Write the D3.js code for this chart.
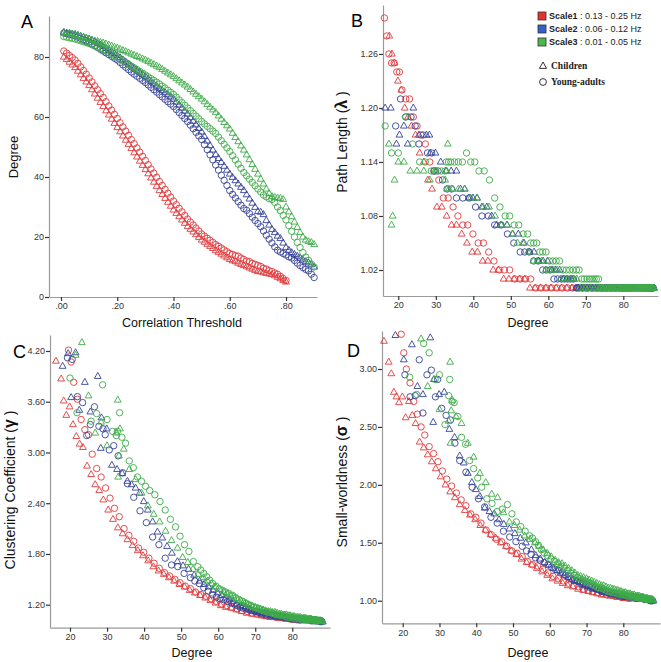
<!DOCTYPE html>
<html><head><meta charset="utf-8">
<script src="https://cdn.jsdelivr.net/npm/d3@7"></script>
<style>body{margin:0;background:#fff}svg{display:block}</style>
</head><body>
<svg id="chart" width="661" height="662"></svg>
<script>
// ---------------- DATA ----------------
const thresholds = [
0.01,0.02,0.03,0.04,0.05,0.06,0.07,0.08,0.09,0.10,
0.11,0.12,0.13,0.14,0.15,0.16,0.17,0.18,0.19,0.20,
0.21,0.22,0.23,0.24,0.25,0.26,0.27,0.28,0.29,0.30,
0.31,0.32,0.33,0.34,0.35,0.36,0.37,0.38,0.39,0.40,
0.41,0.42,0.43,0.44,0.45,0.46,0.47,0.48,0.49,0.50,
0.51,0.52,0.53,0.54,0.55,0.56,0.57,0.58,0.59,0.60,
0.61,0.62,0.63,0.64,0.65,0.66,0.67,0.68,0.69,0.70,
0.71,0.72,0.73,0.74,0.75,0.76,0.77,0.78,0.79,0.80,
0.81,0.82,0.83,0.84,0.85,0.86,0.87,0.88,0.89,0.90];

const scaleLegend = ["Scale1", "Scale2", "Scale3"];
const scaleBands = [" : 0.13 - 0.25 Hz", " : 0.06 - 0.12 Hz", " : 0.01 - 0.05 Hz"];
const groupLegend = ["Children", "Young-adults"];

// Degree per threshold (panel A)
const degRedYoung = [
82.0,81.3,80.5,79.8,79.0,77.9,76.7,75.5,74.3,73.0,
71.7,70.4,69.1,67.8,66.5,65.1,63.7,62.3,60.9,59.5,
58.1,56.7,55.3,53.9,52.5,51.1,49.7,48.3,46.9,45.5,
44.1,42.7,41.3,39.9,38.5,37.2,35.9,34.6,33.3,32.0,
30.8,29.6,28.4,27.2,26.0,25.0,24.0,23.0,22.0,21.0,
20.3,19.6,18.9,18.2,17.5,16.9,16.3,15.7,15.1,14.5,
14.2,13.8,13.6,13.0,12.5,12.0,11.8,11.2,10.9,10.5,
10.2,9.6,9.3,8.8,8.5,8.0,7.6,6.9,6.2,5.5];
const degRedChild = [
80.0,79.2,78.3,77.4,76.5,75.3,74.1,72.9,71.7,70.5,
69.1,67.7,66.3,64.9,63.5,62.1,60.7,59.3,57.9,56.5,
55.1,53.7,52.3,50.9,49.5,48.1,46.7,45.3,43.9,42.5,
41.1,39.7,38.3,36.9,35.5,34.2,32.9,31.6,30.3,29.0,
27.9,26.8,25.7,24.6,23.5,22.6,21.7,20.8,19.9,19.0,
18.3,17.6,16.9,16.2,15.5,14.9,14.3,13.7,13.1,12.5,
12.1,11.8,11.3,10.9,10.5,10.1,9.7,9.3,8.9,8.5,
8.4,8.1,7.9,7.7,7.5,7.1,6.6,6.1,5.5,5.0];
const degBlueYoung = [
88.0,87.8,87.5,87.3,87.0,86.6,86.2,85.8,85.4,85.0,
84.4,83.8,83.2,82.6,82.0,81.4,80.8,80.2,79.6,79.0,
78.2,77.4,76.6,75.8,75.0,74.3,73.6,72.9,72.2,71.5,
70.7,69.9,69.1,68.3,67.5,66.7,65.9,65.1,64.3,63.5,
62.5,61.5,60.5,59.5,58.5,57.3,56.1,54.9,53.7,52.5,
50.8,49.1,47.4,45.7,44.0,42.3,40.6,38.9,37.2,35.5,
34.2,33.0,31.8,30.6,29.5,28.9,27.8,26.6,25.5,24.5,
23.4,22.0,20.6,19.3,18.0,16.7,15.6,15.0,14.5,14.0,
13.4,13.0,12.2,11.3,10.5,9.8,9.2,8.7,7.6,6.5];
const degBlueChild = [
88.2,88.0,87.9,87.7,87.5,87.2,86.9,86.6,86.3,86.0,
85.5,85.0,84.5,84.0,83.5,82.9,82.3,81.7,81.1,80.5,
79.8,79.1,78.4,77.7,77.0,76.3,75.6,74.9,74.2,73.5,
72.7,71.9,71.1,70.3,69.5,68.8,68.1,67.4,66.7,66.0,
65.0,64.0,63.0,62.0,61.0,59.8,58.6,57.4,56.2,55.0,
53.5,52.0,50.5,49.0,47.5,46.2,44.9,43.6,42.3,41.0,
39.9,38.8,37.7,36.6,35.5,34.1,32.7,31.3,29.9,28.5,
28.3,27.5,25.5,24.0,22.5,21.5,20.3,19.5,18.0,16.5,
15.6,14.8,14.2,13.6,13.0,12.4,11.8,11.4,10.8,10.0];
const degGreenYoung = [
86.8,86.6,86.4,86.2,86.0,85.7,85.4,85.1,84.8,84.5,
84.1,83.7,83.3,82.9,82.5,82.0,81.5,81.0,80.5,80.0,
79.4,78.8,78.2,77.6,77.0,76.4,75.8,75.2,74.6,74.0,
73.4,72.8,72.2,71.6,71.0,70.3,69.6,68.9,68.2,67.5,
66.6,65.7,64.8,63.9,63.0,62.1,61.2,60.3,59.4,58.5,
57.7,56.9,56.1,55.3,54.5,53.3,52.1,50.9,49.7,48.5,
47.1,45.7,44.3,42.9,41.5,40.4,39.3,38.2,37.1,36.0,
35.0,34.0,33.4,32.8,32.5,31.5,30.0,28.8,27.2,25.7,
23.8,21.9,20.0,18.2,16.5,14.8,13.3,12.2,11.0,10.0];
const degGreenChild = [
88.2,88.0,87.9,87.7,87.5,87.2,86.9,86.6,86.3,86.0,
85.7,85.4,85.2,84.9,84.7,84.4,84.0,83.7,83.3,83.0,
82.6,82.2,81.8,81.4,81.0,80.6,80.2,79.8,79.4,79.0,
78.5,78.0,77.5,77.0,76.5,75.9,75.3,74.7,74.1,73.5,
72.8,72.1,71.4,70.7,70.0,69.2,68.4,67.6,66.8,66.0,
65.1,64.2,63.3,62.4,61.5,60.4,59.3,58.2,57.1,56.0,
54.6,53.2,51.8,50.4,49.0,47.4,45.8,44.2,42.6,41.0,
39.3,37.7,36.0,34.5,33.5,33.2,33.0,32.9,32.5,30.0,
28.4,26.8,25.0,23.2,21.5,20.0,19.0,18.5,18.2,17.5];

// Path length (panel B), null = not shown
const _ = null;
const plRedYoung = [
1.00,1.00,1.00,1.00,1.00,1.00,1.00,1.00,1.00,1.00,
1.00,1.00,1.00,1.00,1.00,1.00,1.00,1.00,1.00,1.00,
1.00,1.00,1.01,1.01,1.01,1.01,1.02,1.02,1.02,1.03,
1.04,1.05,1.05,1.06,1.07,1.07,1.08,1.09,1.10,1.10,
1.12,1.13,1.14,1.16,1.17,1.18,1.19,1.21,1.21,1.22,
1.24,1.24,1.25,1.25,1.26,1.28,1.30,_,_,_,
_,_,_,_,_,_,_,_,_,_,
_,_,_,_,_,_,_,_,_,_];
const plRedChild = [
1.00,1.00,1.00,1.00,1.00,1.00,1.00,1.00,1.00,1.00,
1.00,1.00,1.00,1.00,1.00,1.00,1.00,1.00,1.00,1.00,
1.00,1.01,1.01,1.01,1.01,1.01,1.02,1.02,1.03,1.03,
1.04,1.04,1.05,1.06,1.07,1.07,1.08,1.09,1.09,1.11,
1.12,1.14,1.15,1.17,1.18,1.19,1.20,1.22,1.23,1.25,
1.26,1.28,_,_,_,_,_,_,_,_,
_,_,_,_,_,_,_,_,_,_,
_,_,_,_,_,_,_,_,_,_];
const plBlueYoung = [
1.00,1.00,1.00,1.00,1.00,1.00,1.00,1.00,1.00,1.00,
1.00,1.00,1.00,1.00,1.00,1.00,1.00,1.00,1.00,1.00,
1.00,1.00,1.00,1.00,1.00,1.00,1.00,1.00,1.00,1.00,
1.00,1.00,1.00,1.00,1.00,1.01,1.01,1.01,1.01,1.01,
1.01,1.01,1.02,1.02,1.02,1.03,1.03,1.04,1.04,1.04,
1.05,1.06,1.07,1.07,1.08,1.08,1.09,1.10,1.10,1.10,
1.11,1.11,1.12,1.13,1.13,1.15,1.15,1.17,1.16,1.18,
1.19,1.19,1.21,1.18,_,_,_,_,_,_,
_,_,_,_,_,_,_,_,_,_];
const plBlueChild = [
1.00,1.00,1.00,1.00,1.00,1.00,1.00,1.00,1.00,1.00,
1.00,1.00,1.00,1.00,1.00,1.00,1.00,1.00,1.00,1.00,
1.00,1.00,1.00,1.00,1.00,1.00,1.00,1.00,1.00,1.00,
1.00,1.00,1.00,1.00,1.00,1.00,1.00,1.00,1.01,1.01,
1.01,1.01,1.02,1.02,1.02,1.03,1.03,1.03,1.04,1.04,
1.05,1.06,1.06,1.07,1.07,1.07,1.08,1.09,1.09,1.10,
1.10,1.10,1.11,1.11,1.13,1.13,1.13,1.14,1.15,1.15,
1.17,1.17,1.17,1.20,1.16,1.18,1.17,1.16,1.20,1.20,
_,_,_,_,_,_,_,_,_,_];
const plGreenYoung = [
1.00,1.00,1.00,1.00,1.00,1.00,1.00,1.00,1.00,1.00,
1.00,1.00,1.00,1.00,1.00,1.00,1.00,1.00,1.00,1.00,
1.00,1.00,1.00,1.00,1.00,1.00,1.00,1.00,1.00,1.00,
1.01,1.01,1.01,1.01,1.01,1.01,1.01,1.01,1.02,1.02,
1.02,1.02,1.02,1.02,1.03,1.03,1.03,1.03,1.04,1.04,
1.04,1.05,1.05,1.05,1.06,1.06,1.07,1.07,1.08,1.08,
1.09,1.10,1.12,1.13,1.13,1.14,1.14,1.15,1.14,1.14,
1.14,1.14,1.14,1.14,1.13,1.13,1.13,1.13,1.14,1.14,
1.16,1.19,1.15,1.15,1.18,_,_,_,_,_];
const plGreenChild = [
1.00,1.00,1.00,1.00,1.00,1.00,1.00,1.00,1.00,1.00,
1.00,1.00,1.00,1.00,1.00,1.00,1.00,1.00,1.00,1.00,
1.00,1.00,1.00,1.00,1.00,1.00,1.00,1.00,1.00,1.00,
1.00,1.00,1.00,1.00,1.00,1.00,1.00,1.00,1.00,1.00,
1.00,1.00,1.00,1.00,1.00,1.00,1.00,1.01,1.01,1.01,
1.01,1.01,1.01,1.02,1.02,1.02,1.02,1.03,1.03,1.03,
1.04,1.05,1.05,1.06,1.07,1.07,1.08,1.09,1.09,1.10,
1.10,1.11,1.11,1.11,1.11,1.16,1.11,1.13,1.12,1.13,
1.12,1.13,1.13,1.13,1.14,1.14,1.12,1.08,1.07,1.16];

// Clustering coefficient gamma (panel C)
const ccRedYoung = [
1.02,1.02,1.03,1.03,1.04,1.04,1.05,1.05,1.06,1.07,
1.08,1.09,1.10,1.12,1.13,1.15,1.17,1.19,1.21,1.24,
1.27,1.30,1.32,1.35,1.39,1.42,1.46,1.50,1.54,1.58,
1.63,1.69,1.75,1.82,1.87,1.95,2.02,2.10,2.24,2.34,
2.46,2.58,2.71,2.81,2.98,3.21,3.27,3.39,3.63,3.83,
4.07,4.21,_,_,_,_,_,_,_,_,
_,_,_,_,_,_,_,_,_,_,
_,_,_,_,_,_,_,_,_,_];
const ccRedChild = [
1.02,1.03,1.03,1.04,1.04,1.05,1.05,1.06,1.07,1.08,
1.09,1.10,1.12,1.14,1.16,1.17,1.19,1.22,1.25,1.28,
1.31,1.34,1.37,1.41,1.44,1.48,1.52,1.56,1.60,1.65,
1.72,1.78,1.84,1.90,1.97,2.04,2.11,2.21,2.32,2.44,
2.55,2.62,2.74,2.84,3.06,3.10,3.19,3.33,3.54,3.44,
3.61,3.87,_,4.08,_,_,_,_,_,_,
_,_,_,_,_,_,_,_,_,_,
_,_,_,_,_,_,_,_,_,_];
const ccBlueYoung = [
1.00,1.00,1.00,1.01,1.01,1.01,1.01,1.01,1.01,1.01,
1.02,1.02,1.02,1.02,1.02,1.03,1.03,1.03,1.04,1.04,
1.05,1.05,1.06,1.06,1.07,1.07,1.08,1.08,1.09,1.10,
1.11,1.12,1.13,1.14,1.15,1.16,1.17,1.19,1.21,1.22,
1.24,1.26,1.27,1.29,1.32,1.36,1.40,1.45,1.48,1.52,
1.57,1.65,1.67,1.75,1.91,2.00,2.17,2.31,2.47,2.63,
2.76,2.96,3.08,3.03,3.21,3.28,3.31,3.54,3.33,3.20,
3.59,3.66,4.10,4.12,_,_,_,_,_,_,
_,_,_,_,_,_,_,_,_,_];
const ccBlueChild = [
1.00,1.00,1.00,1.00,1.01,1.01,1.01,1.01,1.01,1.01,
1.02,1.02,1.02,1.02,1.02,1.03,1.03,1.03,1.03,1.03,
1.04,1.04,1.05,1.05,1.06,1.06,1.07,1.07,1.08,1.09,
1.10,1.10,1.11,1.12,1.13,1.14,1.16,1.17,1.18,1.19,
1.21,1.24,1.26,1.28,1.31,1.34,1.37,1.41,1.44,1.48,
1.55,1.62,1.66,1.71,1.81,1.89,1.99,2.06,2.18,2.32,
2.42,2.52,2.58,2.62,2.66,2.75,2.80,2.85,3.28,3.41,
3.05,3.90,3.48,3.83,3.50,4.18,3.65,4.17,4.02,_,
_,_,_,_,_,_,_,_,_,_];
const ccGreenYoung = [
1.01,1.01,1.01,1.01,1.02,1.02,1.02,1.02,1.02,1.02,
1.02,1.02,1.03,1.03,1.03,1.03,1.04,1.04,1.04,1.05,
1.05,1.05,1.06,1.07,1.07,1.08,1.08,1.09,1.10,1.11,
1.11,1.12,1.13,1.14,1.15,1.16,1.17,1.19,1.20,1.22,
1.24,1.26,1.28,1.31,1.33,1.35,1.37,1.39,1.42,1.45,
1.49,1.53,1.57,1.61,1.65,1.71,1.83,1.91,2.01,2.12,
2.21,2.32,2.42,2.50,2.55,2.60,2.66,2.71,2.82,2.90,
3.11,3.18,3.47,3.25,3.20,3.25,3.39,3.80,3.46,3.37,
_,3.47,3.88,_,_,_,_,_,_,_];
const ccGreenChild = [
1.00,1.00,1.00,1.01,1.01,1.01,1.01,1.02,1.02,1.02,
1.02,1.02,1.03,1.03,1.03,1.03,1.03,1.04,1.04,1.04,
1.04,1.05,1.05,1.05,1.05,1.06,1.06,1.06,1.07,1.07,
1.08,1.08,1.08,1.09,1.09,1.10,1.11,1.11,1.12,1.12,
1.13,1.14,1.15,1.16,1.17,1.18,1.19,1.21,1.23,1.25,
1.27,1.29,1.31,1.33,1.35,1.38,1.41,1.45,1.48,1.52,
1.56,1.62,1.70,1.76,1.87,1.96,2.07,2.18,2.27,2.37,
2.52,2.68,2.80,3.04,3.28,2.96,2.71,3.62,3.23,3.08,
3.36,3.23,3.67,4.30,4.15,_,_,_,_,_];

// Small-worldness sigma (panel D)
const swRedYoung = [
1.02,1.02,1.03,1.03,1.04,1.04,1.05,1.05,1.06,1.07,
1.08,1.09,1.10,1.12,1.13,1.15,1.17,1.19,1.21,1.24,
1.27,1.30,1.31,1.34,1.38,1.41,1.43,1.47,1.51,1.53,
1.57,1.61,1.67,1.72,1.75,1.82,1.87,1.93,1.99,2.05,
2.12,2.20,2.27,2.33,2.43,2.50,2.61,2.72,2.88,3.00,
3.14,3.30,_,_,_,_,_,_,_,_,
_,_,_,_,_,_,_,_,_,_,
_,_,_,_,_,_,_,_,_,_];
const swRedChild = [
1.02,1.03,1.03,1.04,1.04,1.05,1.05,1.06,1.07,1.08,
1.09,1.10,1.12,1.13,1.15,1.17,1.19,1.22,1.25,1.28,
1.31,1.33,1.36,1.40,1.43,1.47,1.50,1.54,1.57,1.61,
1.65,1.70,1.74,1.78,1.83,1.89,1.94,2.00,2.07,2.14,
2.20,2.26,2.32,2.37,2.53,2.60,2.72,2.58,2.76,2.71,
2.76,2.80,2.96,3.06,_,3.24,_,_,_,_,
_,_,_,_,_,_,_,_,_,_,
_,_,_,_,_,_,_,_,_,_];
const swBlueYoung = [
1.00,1.00,1.00,1.00,1.01,1.01,1.01,1.01,1.02,1.02,
1.02,1.02,1.02,1.03,1.03,1.03,1.04,1.04,1.04,1.05,
1.05,1.06,1.06,1.07,1.08,1.08,1.09,1.10,1.11,1.12,
1.13,1.14,1.15,1.16,1.17,1.18,1.19,1.21,1.22,1.24,
1.26,1.27,1.29,1.31,1.33,1.35,1.37,1.40,1.43,1.47,
1.51,1.55,1.60,1.67,1.72,1.81,1.88,1.98,2.11,2.21,
2.36,2.56,2.60,2.66,2.91,2.76,2.99,2.95,2.62,3.08,
2.77,2.76,2.95,_,_,_,_,_,_,_,
_,_,_,_,_,_,_,_,_,_];
const swBlueChild = [
1.00,1.00,1.00,1.00,1.01,1.01,1.01,1.01,1.01,1.01,
1.02,1.02,1.02,1.02,1.02,1.03,1.03,1.03,1.03,1.03,
1.04,1.04,1.05,1.05,1.06,1.06,1.07,1.07,1.08,1.09,
1.10,1.10,1.11,1.12,1.13,1.14,1.16,1.17,1.17,1.18,
1.20,1.22,1.24,1.26,1.28,1.31,1.33,1.36,1.39,1.44,
1.50,1.54,1.58,1.62,1.66,1.70,1.75,1.77,1.80,1.90,
1.96,2.02,2.10,2.19,2.25,2.41,2.48,2.80,2.78,2.91,
2.54,3.27,2.78,2.85,3.21,_,3.08,_,3.29,_,
_,_,_,_,_,_,_,_,_,_];
const swGreenYoung = [
1.01,1.01,1.01,1.01,1.02,1.02,1.02,1.02,1.02,1.02,
1.03,1.03,1.03,1.03,1.03,1.04,1.04,1.04,1.05,1.05,
1.05,1.06,1.06,1.07,1.07,1.08,1.08,1.09,1.10,1.11,
1.11,1.12,1.13,1.14,1.15,1.16,1.17,1.18,1.19,1.20,
1.22,1.24,1.26,1.28,1.30,1.32,1.34,1.36,1.39,1.41,
1.44,1.48,1.51,1.54,1.56,1.60,1.64,1.68,1.75,1.83,
1.79,1.77,1.84,1.88,1.98,2.06,2.14,2.21,2.35,2.41,
2.59,2.71,2.72,2.91,2.77,2.52,2.95,2.91,3.14,3.22,
2.78,2.93,_,_,_,_,_,_,_,_];
const swGreenChild = [
1.00,1.00,1.01,1.01,1.01,1.01,1.01,1.02,1.02,1.02,
1.02,1.03,1.03,1.03,1.03,1.04,1.04,1.04,1.04,1.05,
1.05,1.05,1.06,1.06,1.06,1.07,1.07,1.07,1.08,1.08,
1.09,1.09,1.10,1.10,1.11,1.11,1.12,1.13,1.13,1.14,
1.15,1.16,1.17,1.18,1.19,1.20,1.21,1.22,1.24,1.26,
1.28,1.30,1.32,1.33,1.35,1.38,1.41,1.44,1.47,1.50,
1.53,1.56,1.61,1.65,1.68,1.76,1.89,1.92,2.02,2.10,
2.24,2.36,2.53,2.59,2.73,2.64,2.36,3.06,2.55,2.65,
_,2.85,3.26,_,_,_,_,_,_,_];

// tick values
const ticksA_x = [0, 0.2, 0.4, 0.6, 0.8];
const ticksA_y = [0, 20, 40, 60, 80];
const ticksB_y = [1.02, 1.08, 1.14, 1.20, 1.26];
const ticksC_y = [1.20, 1.80, 2.40, 3.00, 3.60, 4.20];
const ticksD_y = [1.00, 1.50, 2.00, 2.50, 3.00];
const ticksDegree = [20, 30, 40, 50, 60, 70, 80];

// ---------------- DRAWING ----------------
const colors = {red: "#e23a3c", blue: "#36439a", green: "#3dac47"};
const legendFill = {red: "#e8302f", blue: "#3560c4", green: "#4db64c"};
const series = [
  {c: "red", g: "child", deg: degRedChild, pl: plRedChild, cc: ccRedChild, sw: swRedChild},
  {c: "red", g: "young", deg: degRedYoung, pl: plRedYoung, cc: ccRedYoung, sw: swRedYoung},
  {c: "blue", g: "child", deg: degBlueChild, pl: plBlueChild, cc: ccBlueChild, sw: swBlueChild},
  {c: "blue", g: "young", deg: degBlueYoung, pl: plBlueYoung, cc: ccBlueYoung, sw: swBlueYoung},
  {c: "green", g: "child", deg: degGreenChild, pl: plGreenChild, cc: ccGreenChild, sw: swGreenChild},
  {c: "green", g: "young", deg: degGreenYoung, pl: plGreenYoung, cc: ccGreenYoung, sw: swGreenYoung}
];

const svg = d3.select("#chart");
const FONT = "Arial, 'Liberation Sans', Helvetica, sans-serif";
const triPath = "M0,-3.9L3.4,2.1L-3.4,2.1Z";

const fmt2 = d3.format(".2f");
const panels = [
  {id: "A", xd: [-0.0427, 0.9102], xr: [49, 317], yd: [0, 93.67], yr: [297, 16],
   xt: ticksA_x, xf: d => fmt2(d).replace(/^0/, ""), yt: ticksA_y, yf: d => d,
   get: (s, i) => [thresholds[i], s.deg[i]]},
  {id: "B", xd: [15.92, 89.25], xr: [383, 658], yd: [0.9911, 1.3144], yr: [296, 5],
   xt: ticksDegree, xf: d => d, yt: ticksB_y, yf: fmt2,
   get: (s, i) => [s.deg[i], s.pl[i]]},
  {id: "C", xd: [14.60, 90.18], xr: [50, 330], yd: [0.928, 4.389], yr: [627.7, 335],
   xt: ticksDegree, xf: d => d, yt: ticksC_y, yf: fmt2,
   get: (s, i) => [s.deg[i], s.cc[i]]},
  {id: "D", xd: [14.37, 89.98], xr: [382, 660], yd: [0.805, 3.328], yr: [623.3, 331],
   xt: ticksDegree, xf: d => d, yt: ticksD_y, yf: fmt2,
   get: (s, i) => [s.deg[i], s.sw[i]]}
];

panels.forEach(p => {
  const x = d3.scaleLinear().domain(p.xd).range(p.xr);
  const y = d3.scaleLinear().domain(p.yd).range(p.yr);
  const g = svg.append("g");

  const gx = g.append("g").attr("transform", `translate(0,${p.yr[0]})`)
    .call(d3.axisBottom(x).tickValues(p.xt).tickFormat(p.xf).tickSize(4).tickSizeOuter(0).tickPadding(2));
  const gy = g.append("g").attr("transform", `translate(${p.xr[0]},0)`)
    .call(d3.axisLeft(y).tickValues(p.yt).tickFormat(p.yf).tickSize(4).tickSizeOuter(0).tickPadding(1));
  [gx, gy].forEach(a => {
    a.select(".domain").attr("stroke", "#9a9a9a").attr("stroke-width", 1.2);
    a.selectAll(".tick line").attr("stroke", "#333").attr("stroke-width", 1.2);
    a.selectAll(".tick text").attr("font-family", FONT).attr("font-size", 9).attr("fill", "#333");
  });

  const pts = g.append("g");
  series.forEach(s => {
    const data = [];
    s.deg.forEach((_, i) => {
      const [vx, vy] = p.get(s, i);
      if (vx == null || vy == null) return;
      if (vx < p.xd[0] || vx > p.xd[1] || vy < p.yd[0] || vy > p.yd[1]) return;
      data.push([vx, vy]);
    });
    const sel = pts.selectAll(null).data(data);
    if (s.g === "young") {
      sel.enter().append("circle")
        .attr("cx", d => x(d[0])).attr("cy", d => y(d[1])).attr("r", 3.2)
        .attr("fill", "none").attr("stroke", colors[s.c]).attr("stroke-width", 0.9);
    } else {
      sel.enter().append("path").attr("d", triPath)
        .attr("transform", d => `translate(${x(d[0])},${y(d[1])})`)
        .attr("fill", "none").attr("stroke", colors[s.c]).attr("stroke-width", 0.9);
    }
  });
});

// Panel letters
[["A", 21, 28], ["B", 351, 27], ["C", 13, 358], ["D", 347, 357]].forEach(([t, px, py]) =>
  svg.append("text").attr("x", px).attr("y", py).attr("font-family", FONT)
    .attr("font-size", 18).attr("fill", "#000").text(t));

// Axis titles
function xTitle(t, cx, by) {
  svg.append("text").attr("x", cx).attr("y", by).attr("text-anchor", "middle")
    .attr("font-family", FONT).attr("font-size", 12.5).attr("fill", "#111").text(t);
}
xTitle("Correlation Threshold", 182, 327);
xTitle("Degree", 528, 327);
xTitle("Degree", 192, 657);
xTitle("Degree", 528, 657);

function yTitle(pre, sym, post, bx, cy, fs) {
  const t = svg.append("text").attr("transform", `translate(${bx},${cy}) rotate(-90)`)
    .attr("text-anchor", "middle").attr("font-family", FONT).attr("font-size", fs).attr("fill", "#111");
  t.append("tspan").text(pre);
  if (sym) {
    t.append("tspan").attr("font-weight", "bold").attr("font-size", fs + 2).text(sym);
    t.append("tspan").text(post);
  }
}
yTitle("Degree", null, null, 17.5, 157, 13);
yTitle("Path Length (", "λ", " )", 347, 142, 14);
yTitle("Clustering Coefficient (", "γ", " )", 14.5, 490, 14);
yTitle("Small-worldness (", "σ", " )", 346.5, 482, 14);

// Legend
const lg = svg.append("g");
["red", "blue", "green"].forEach((c, i) => {
  const cy = 16 + i * 13;
  lg.append("rect").attr("x", 538).attr("y", cy - 4).attr("width", 8).attr("height", 8)
    .attr("fill", legendFill[c]).attr("stroke", "#333").attr("stroke-width", 0.8);
  const t = lg.append("text").attr("x", 549).attr("y", cy + 3.3)
    .attr("font-family", FONT).attr("font-size", 9).attr("fill", "#222");
  t.append("tspan").attr("font-weight", "bold").text(scaleLegend[i]);
  t.append("tspan").text(scaleBands[i]);
});
lg.append("path").attr("d", "M0,-4L3.6,2.4L-3.6,2.4Z").attr("transform", "translate(543,66)")
  .attr("fill", "none").attr("stroke", "#333").attr("stroke-width", 1);
lg.append("circle").attr("cx", 543).attr("cy", 82).attr("r", 3.4)
  .attr("fill", "none").attr("stroke", "#333").attr("stroke-width", 1);
groupLegend.forEach((t, i) => {
  lg.append("text").attr("x", 551).attr("y", 69 + i * 16)
    .attr("font-family", "'Liberation Serif', 'Times New Roman', serif")
    .attr("font-weight", "bold").attr("font-size", 9.5).attr("fill", "#222").text(t);
});
</script>
</body></html>
